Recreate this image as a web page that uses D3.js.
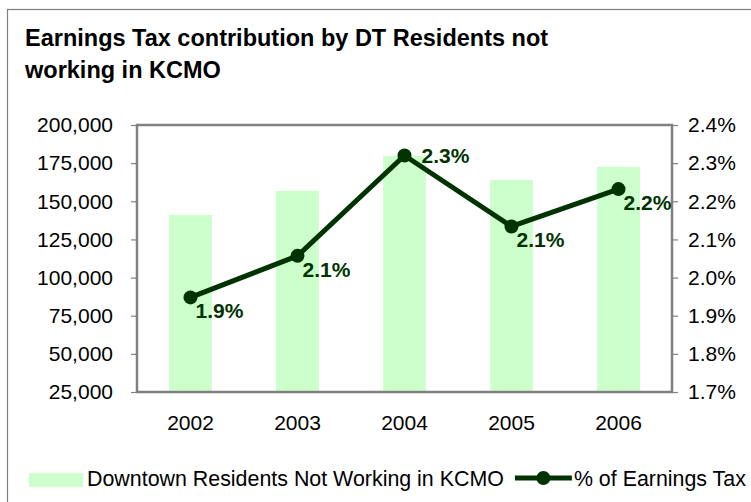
<!DOCTYPE html>
<html>
<head>
<meta charset="utf-8">
<script src="https://cdn.jsdelivr.net/npm/d3@7"></script>
<style>
  body { margin: 0; background: #fff; }
  text { font-family: "Liberation Sans", Arial, sans-serif; }
</style>
</head>
<body>
<div id="chart"></div>
<script>
const years = ['2002', '2003', '2004', '2005', '2006'];
const residentsNotWorking = [141000, 156800, 179700, 164000, 172500];
const earningsTaxPct = [1.948, 2.057, 2.320, 2.134, 2.232];
const leftTicks = [25000, 50000, 75000, 100000, 125000, 150000, 175000, 200000];
const rightTicks = [1.7, 1.8, 1.9, 2.0, 2.1, 2.2, 2.3, 2.4];
const titleLines = ['Earnings Tax contribution by DT Residents not', 'working in KCMO'];
const seriesNames = ['Downtown Residents Not Working in KCMO', '% of Earnings Tax'];

const W = 751, H = 502;
const margin = { top: 125, right: 79, bottom: 110, left: 137 };
const width = W - margin.left - margin.right;
const height = H - margin.top - margin.bottom;

const barColor = '#ccffcc';
const lineColor = '#003300';
const axisGray = '#808080';

const svg = d3.select('#chart').append('svg')
  .attr('width', W)
  .attr('height', H);

// outer chart frame (runs off the canvas right and bottom)
svg.append('rect')
  .attr('x', 7.5).attr('y', 9.5)
  .attr('width', 800).attr('height', 600)
  .attr('fill', 'none')
  .attr('stroke', axisGray)
  .attr('stroke-width', 1.2);

svg.append('text')
  .attr('x', 25).attr('y', 46)
  .style('font-size', '23.5px')
  .style('font-weight', 'bold')
  .attr('fill', '#000')
  .selectAll('tspan')
  .data(titleLines)
  .enter()
  .append('tspan')
  .attr('x', 25)
  .attr('dy', (d, i) => i === 0 ? 0 : 31.5)
  .text(d => d);

const g = svg.append('g')
  .attr('transform', `translate(${margin.left},${margin.top})`);

const x = d3.scaleBand()
  .domain(years)
  .range([0, width])
  .paddingInner(0.6)
  .paddingOuter(0.3);

const xc = d3.scaleBand().domain(years).range([0, width]);

const yLeft = d3.scaleLinear()
  .domain([leftTicks[0], leftTicks[leftTicks.length - 1]])
  .range([height, 0]);

const yRight = d3.scaleLinear()
  .domain([rightTicks[0], rightTicks[rightTicks.length - 1]])
  .range([height, 0]);

g.selectAll('rect.bar')
  .data(years)
  .enter()
  .append('rect')
  .attr('class', 'bar')
  .attr('x', d => x(d))
  .attr('y', (d, i) => yLeft(residentsNotWorking[i]))
  .attr('width', x.bandwidth())
  .attr('height', (d, i) => height - yLeft(residentsNotWorking[i]))
  .attr('fill', barColor);

// plot area border
g.append('rect')
  .attr('x', 0).attr('y', 0)
  .attr('width', width).attr('height', height)
  .attr('fill', 'none')
  .attr('stroke', axisGray)
  .attr('stroke-width', 2.5);

const leftAxis = g.append('g')
  .call(d3.axisLeft(yLeft).tickValues(leftTicks).tickSize(6).tickPadding(18)
    .tickFormat(d3.format(',')));

const rightAxis = g.append('g')
  .attr('transform', `translate(${width},0)`)
  .call(d3.axisRight(yRight).tickValues(rightTicks).tickSize(6).tickPadding(10)
    .tickFormat(d => d3.format('.1f')(d) + '%'));

const bottomAxis = g.append('g')
  .attr('transform', `translate(0,${height})`)
  .call(d3.axisBottom(xc).tickSize(0).tickPadding(23));

[leftAxis, rightAxis, bottomAxis].forEach(a => {
  a.select('.domain').remove();
  a.selectAll('line').attr('stroke', axisGray).attr('stroke-width', 1.2);
  a.selectAll('text')
    .style('font-family', '"Liberation Sans", Arial, sans-serif')
    .style('font-size', '21px')
    .attr('fill', '#000');
});

const pts = years.map((d, i) => [xc(d) + xc.bandwidth() / 2, yRight(earningsTaxPct[i])]);

g.append('path')
  .datum(pts)
  .attr('d', d3.line())
  .attr('fill', 'none')
  .attr('stroke', lineColor)
  .attr('stroke-width', 5)
  .attr('stroke-linejoin', 'round');

g.selectAll('circle.pt')
  .data(pts)
  .enter()
  .append('circle')
  .attr('class', 'pt')
  .attr('cx', d => d[0])
  .attr('cy', d => d[1])
  .attr('r', 7)
  .attr('fill', lineColor);

// data labels: the peak gets its label to the right, the others sit below-right
const isPeak = i => i > 0 && i < earningsTaxPct.length - 1 &&
  earningsTaxPct[i] > earningsTaxPct[i - 1] && earningsTaxPct[i] > earningsTaxPct[i + 1];

g.selectAll('text.lbl')
  .data(pts)
  .enter()
  .append('text')
  .attr('class', 'lbl')
  .attr('x', (d, i) => d[0] + (isPeak(i) ? 17 : 5))
  .attr('y', (d, i) => d[1] + (isPeak(i) ? 7.5 : 21))
  .style('font-size', '21px')
  .style('font-weight', 'bold')
  .attr('fill', lineColor)
  .text((d, i) => d3.format('.1f')(earningsTaxPct[i]) + '%');

// legend
const legend = svg.append('g').attr('transform', 'translate(29,478)');

legend.append('rect')
  .attr('x', 0).attr('y', -5)
  .attr('width', 54).attr('height', 14)
  .attr('fill', barColor);

const t1 = legend.append('text')
  .attr('x', 58).attr('y', 7.5)
  .style('font-size', '21.4px')
  .attr('fill', '#000')
  .text(seriesNames[0]);

const lx = 58 + t1.node().getComputedTextLength() + 11;

legend.append('line')
  .attr('x1', lx).attr('x2', lx + 57)
  .attr('y1', 0).attr('y2', 0)
  .attr('stroke', lineColor)
  .attr('stroke-width', 5);

legend.append('circle')
  .attr('cx', lx + 28.5).attr('cy', 0)
  .attr('r', 7)
  .attr('fill', lineColor);

legend.append('text')
  .attr('x', lx + 59).attr('y', 7.5)
  .style('font-size', '21.4px')
  .attr('fill', '#000')
  .text(seriesNames[1]);
</script>
</body>
</html>
